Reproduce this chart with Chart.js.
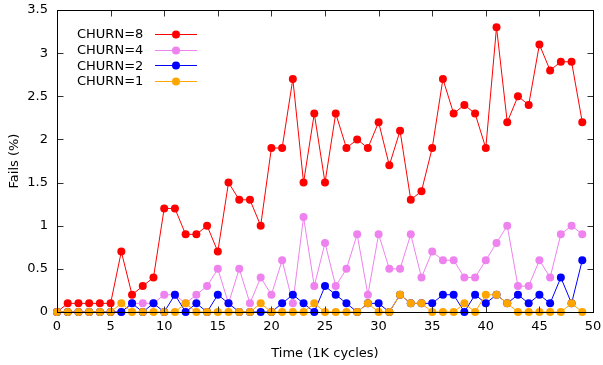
<!DOCTYPE html>
<html>
<head>
<meta charset="utf-8">
<script src="https://cdn.jsdelivr.net/npm/chart.js@4"></script>
<style>
  html, body { margin: 0; padding: 0; background: #fff; }
  #chart { display: block; }
</style>
</head>
<body>
<canvas id="chart" width="603" height="365"></canvas>
<script>
// x values (1K cycles)
const cycles = [0, 1, 2, 3, 4, 5, 6, 7, 8, 9,
    10, 11, 12, 13, 14, 15, 16, 17, 18, 19,
    20, 21, 22, 23, 24, 25, 26, 27, 28, 29,
    30, 31, 32, 33, 34, 35, 36, 37, 38, 39,
    40, 41, 42, 43, 44, 45, 46, 47, 48, 49];

// fails (%) per churn setting
const churn8 = [0, 0.1, 0.1, 0.1, 0.1, 0.1, 0.7, 0.2, 0.3, 0.4,
    1.2, 1.2, 0.9, 0.9, 1.0, 0.7, 1.5, 1.3, 1.3, 1.0,
    1.9, 1.9, 2.7, 1.5, 2.3, 1.5, 2.3, 1.9, 2.0, 1.9,
    2.2, 1.7, 2.1, 1.3, 1.4, 1.9, 2.7, 2.3, 2.4, 2.3,
    1.9, 3.3, 2.2, 2.5, 2.4, 3.1, 2.8, 2.9, 2.9, 2.2];
const churn4 = [0, 0, 0, 0, 0, 0, 0, 0.1, 0.1, 0.1,
    0.2, 0.2, 0.1, 0.2, 0.3, 0.5, 0.1, 0.5, 0.1, 0.4,
    0.2, 0.6, 0.1, 1.1, 0.3, 0.8, 0.3, 0.5, 0.9, 0.2,
    0.9, 0.5, 0.5, 0.9, 0.4, 0.7, 0.6, 0.6, 0.4, 0.4,
    0.6, 0.8, 1.0, 0.3, 0.3, 0.6, 0.4, 0.9, 1.0, 0.9];
const churn2 = [0, 0, 0, 0, 0, 0, 0, 0.1, 0, 0.1,
    0, 0.2, 0, 0.1, 0, 0.2, 0.1, 0, 0, 0,
    0, 0.1, 0.2, 0.1, 0, 0.3, 0.2, 0.1, 0, 0.1,
    0.1, 0, 0.2, 0.1, 0.1, 0.1, 0.2, 0.2, 0, 0.2,
    0.1, 0.2, 0.1, 0.2, 0.1, 0.2, 0.1, 0.4, 0.1, 0.6];
const churn1 = [0, 0, 0, 0, 0, 0, 0.1, 0, 0, 0,
    0, 0, 0.1, 0, 0, 0, 0, 0, 0, 0.1,
    0, 0, 0, 0, 0.1, 0, 0, 0, 0, 0.1,
    0, 0, 0.2, 0.1, 0.1, 0, 0, 0, 0.1, 0,
    0.2, 0.2, 0.1, 0, 0, 0, 0, 0, 0.1, 0];

// tick labels
const xTicks = [0, 5, 10, 15, 20, 25, 30, 35, 40, 45, 50];
const yTicks = [0, 0.5, 1, 1.5, 2, 2.5, 3, 3.5];

const seriesNames = ['CHURN=8', 'CHURN=4', 'CHURN=2', 'CHURN=1'];
const seriesValues = [churn8, churn4, churn2, churn1];
const seriesColors = ['#ff0000', '#ee82ee', '#0000ff', '#ffa500'];

const FONT = { family: 'DejaVu Sans', size: 13 };

// gnuplot-style border with inward ticks on all four sides
const framePlugin = {
    id: 'frame',
    afterDatasetsDraw(chart) {
        const { ctx, chartArea: a, scales: { x, y } } = chart;
        const l = Math.round(a.left) + 0.5, r = Math.round(a.right) + 0.5;
        const t = Math.round(a.top) + 0.5, b = Math.round(a.bottom) + 0.5;
        ctx.save();
        ctx.lineWidth = 1;
        ctx.strokeStyle = '#333';
        ctx.beginPath();
        xTicks.forEach(v => {
            const px = Math.round(x.getPixelForValue(v)) + 0.5;
            ctx.moveTo(px, b); ctx.lineTo(px, b - 6);
            ctx.moveTo(px, t); ctx.lineTo(px, t + 6);
        });
        yTicks.forEach(v => {
            const py = Math.round(y.getPixelForValue(v)) + 0.5;
            ctx.moveTo(l, py); ctx.lineTo(l + 6, py);
            ctx.moveTo(r, py); ctx.lineTo(r - 6, py);
        });
        ctx.stroke();
        ctx.strokeStyle = '#000';
        ctx.strokeRect(l, t, r - l, b - t);
        ctx.restore();
    }
};

// key in the top left: text, then line sample with a point
const keyPlugin = {
    id: 'key',
    afterDraw(chart) {
        const { ctx } = chart;
        ctx.save();
        ctx.font = FONT.size + 'px ' + FONT.family;
        ctx.textBaseline = 'middle';
        ctx.textAlign = 'left';
        seriesNames.forEach((name, i) => {
            const yy = 35 + i * 15.7;
            ctx.fillStyle = '#000';
            ctx.fillText(name, 77, yy);
            ctx.strokeStyle = seriesColors[i];
            ctx.lineWidth = 1;
            ctx.beginPath();
            ctx.moveTo(155, Math.round(yy) - 0.5);
            ctx.lineTo(197, Math.round(yy) - 0.5);
            ctx.stroke();
            ctx.fillStyle = seriesColors[i];
            ctx.beginPath();
            ctx.arc(176, Math.round(yy) - 0.5, 4, 0, Math.PI * 2);
            ctx.fill();
        });
        ctx.restore();
    }
};

const datasets = seriesNames.map((name, i) => ({
    label: name,
    data: cycles.map((c, j) => ({ x: c, y: seriesValues[i][j] })),
    borderColor: seriesColors[i],
    backgroundColor: seriesColors[i],
    borderWidth: 1,
    pointRadius: 4,
    pointBorderWidth: 0,
    pointHoverRadius: 4,
    tension: 0,
    clip: false,
    order: seriesNames.length - i   // later series drawn on top
}));

new Chart(document.getElementById('chart'), {
    type: 'line',
    data: { datasets: datasets },
    options: {
        responsive: false,
        animation: false,
        layout: { padding: { top: 10, right: 10, left: 0, bottom: 0 } },
        plugins: {
            legend: { display: false },
            tooltip: { enabled: false }
        },
        scales: {
            x: {
                type: 'linear',
                min: 0,
                max: 50,
                afterBuildTicks: s => { s.ticks = xTicks.map(v => ({ value: v })); },
                afterFit: s => { s.height = 53; s.paddingLeft = 0; s.paddingRight = 0; },
                grid: { display: false, drawTicks: false },
                border: { display: false },
                ticks: { color: '#000', font: FONT, padding: 7, maxRotation: 0, autoSkip: false, callback: v => String(v) },
                title: { display: true, text: 'Time (1K cycles)', color: '#000', font: FONT, padding: { top: 0, bottom: 4 } }
            },
            y: {
                min: 0,
                max: 3.5,
                afterBuildTicks: s => { s.ticks = yTicks.map(v => ({ value: v })); },
                afterFit: s => { s.width = 57; s.paddingTop = 0; s.paddingBottom = 0; },
                grid: { display: false, drawTicks: false },
                border: { display: false },
                ticks: { color: '#000', font: FONT, padding: 9, callback: v => String(v) },
                title: { display: true, text: 'Fails (%)', color: '#000', font: FONT, padding: { top: 7, bottom: 0 } }
            }
        }
    },
    plugins: [framePlugin, keyPlugin]
});
</script>
</body>
</html>
